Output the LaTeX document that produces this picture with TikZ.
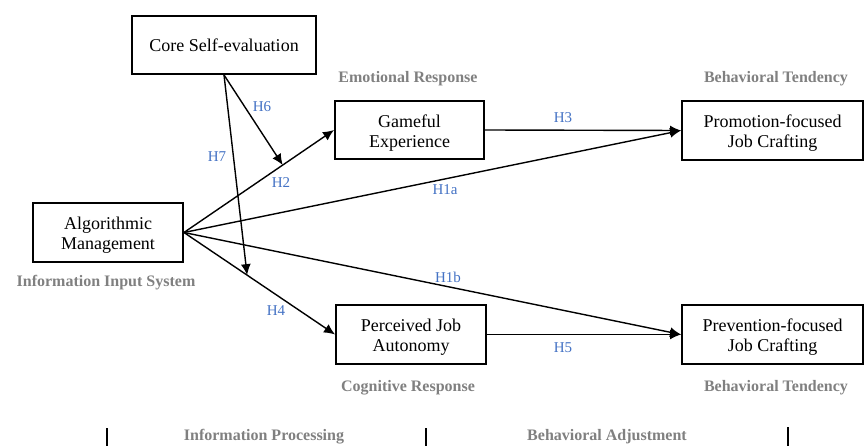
\documentclass[tikz,border=0pt]{standalone}
\usepackage{fontspec}
\setmainfont{Liberation Serif}
\usetikzlibrary{arrows.meta,calc}
\definecolor{hblue}{HTML}{4472C4}
\definecolor{lgray}{HTML}{808080}
\newcommand{\topstrut}{\rule{0pt}{18pt}}
\begin{document}
\begin{tikzpicture}[x=1pt,y=-1pt,
  box/.style={draw,line width=1.9pt,inner sep=0pt,align=center,font=\fontsize{18}{20}\selectfont},
  stage/.style={text=lgray,font=\fontsize{16}{18}\selectfont\bfseries},
  hyp/.style={text=hblue,font=\fontsize{15}{17}\selectfont},
  arr/.style={line width=1.4pt,-{Latex[length=11pt,width=10pt]}},
  plain/.style={line width=1.2pt}]
\useasboundingbox (0,0) rectangle (864,446);
\node[box,minimum width=184pt,minimum height=58pt] (cse) at (224,45) {Core Self-evaluation};
\node[box,minimum width=149pt,minimum height=58pt] (ge) at (409.5,130) {\topstrut Gameful\\Experience};
\node[box,minimum width=181pt,minimum height=59pt] (pro) at (772.5,130.5) {\topstrut Promotion-focused\\Job Crafting};
\node[box,minimum width=150pt,minimum height=59pt] (am) at (108,232.5) {\topstrut Algorithmic\\Management};
\node[box,minimum width=150pt,minimum height=59pt] (pja) at (411,334.5) {\topstrut Perceived Job\\Autonomy};
\node[box,minimum width=181pt,minimum height=59pt] (pre) at (772.5,334.5) {\topstrut Prevention-focused\\Job Crafting};

\node[stage] (s1) at (408,79) {Emotional Response};
\node[stage] (s2) at (776,79) {Behavioral Tendency};
\node[stage] (s3) at (106,283) {Information Input System};
\node[stage] (s4) at (408,388) {Cognitive Response};
\node[stage] (s5) at (776,388) {Behavioral Tendency};
\node[stage] (s6) at (264,437) {Information Processing};
\node[stage] (s7) at (607,437) {Behavioral Adjustment};

\coordinate (v1a) at (107,428); \coordinate (v1b) at (107,446);
\coordinate (v2a) at (426,428); \coordinate (v2b) at (426,446);
\coordinate (v3a) at (788,427); \coordinate (v3b) at (788,446);
\draw[plain] (v1a) -- (v1b);
\draw[plain] (v2a) -- (v2b);
\draw[plain] (v3a) -- (v3b);

\draw[arr] (am.east) -- (ge.west);
\draw[arr] (am.east) -- (pja.west);
\draw[arr] (am.east) -- (pro.west);
\draw[arr] (am.east) -- (pre.west);
\draw[arr] (ge.east) -- (pro.west);
\draw[arr] (pja.east) -- (pre.west);
\coordinate (m2) at ($(am.east)!0.658!(ge.west)$);
\coordinate (m4) at ($(am.east)!0.418!(pja.west)$);
\draw[arr] (cse.south) -- (m2);
\draw[arr] (cse.south) -- (m4);

\node[hyp] (h6) at (262,107) {H6};
\node[hyp] (h7) at (217,157) {H7};
\node[hyp] (h2) at (281,183) {H2};
\node[hyp] (h3) at (563,118) {H3};
\node[hyp] (h1a) at (445,190) {H1a};
\node[hyp] (h1b) at (448,277) {H1b};
\node[hyp] (h4) at (276,311) {H4};
\node[hyp] (h5) at (563,348) {H5};
\end{tikzpicture}
\end{document}
